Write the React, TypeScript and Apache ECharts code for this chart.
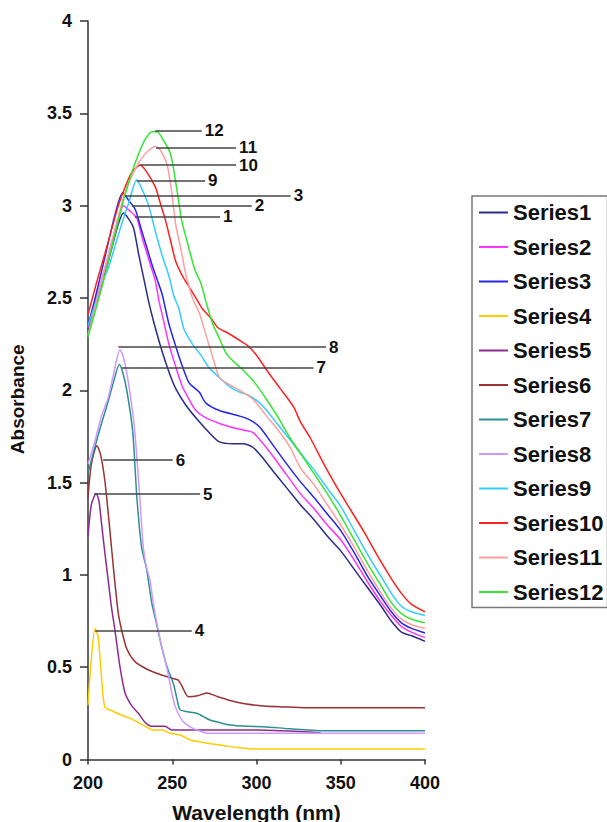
import React, { useEffect, useRef } from "react";
import * as echarts from "echarts";

const seriesNames = ["Series1","Series2","Series3","Series4","Series5","Series6","Series7","Series8","Series9","Series10","Series11","Series12"];
const seriesColors = ["#2B2B8A","#FF33FF","#2626EE","#FFCC00","#8E2A8E","#993333","#2E9090","#CC99FF","#33CCFF","#FF2020","#FF9E9E","#33E633"];

const s1 = [[200,2.33],[205,2.48],[210,2.63],[215,2.8],[218,2.9],[221,2.96],[224,2.93],[227,2.88],[230,2.74],[233,2.61],[236,2.48],[239,2.37],[244,2.21],[248,2.1],[252,2.01],[258,1.92],[265,1.84],[272,1.77],[278,1.72],[286,1.71],[292,1.71],[298,1.69],[304,1.63],[310,1.56],[318,1.47],[326,1.38],[334,1.3],[342,1.21],[350,1.13],[358,1.03],[366,0.93],[374,0.83],[380,0.75],[386,0.69],[392,0.67],[400,0.64]];
const s2 = [[200,2.34],[205,2.5],[210,2.66],[215,2.83],[218,2.93],[221,3.0],[225,2.97],[229,2.93],[232,2.83],[234,2.77],[237,2.68],[240,2.59],[242,2.49],[245,2.37],[248,2.25],[252,2.13],[256,2.02],[260,1.95],[264,1.89],[270,1.85],[278,1.82],[285,1.8],[292,1.785],[298,1.77],[304,1.71],[310,1.64],[318,1.54],[326,1.44],[334,1.36],[342,1.27],[350,1.19],[358,1.08],[366,0.96],[374,0.85],[380,0.78],[386,0.72],[392,0.69],[400,0.66]];
const s3 = [[200,2.35],[204,2.49],[210,2.72],[216,2.95],[220.6,3.07],[224,3.03],[228,2.98],[232,2.86],[235,2.77],[238,2.68],[241,2.6],[244,2.52],[248,2.36],[252,2.24],[256,2.13],[260,2.04],[266,1.99],[270,1.93],[278,1.89],[290,1.86],[296,1.84],[302,1.8],[310,1.7],[318,1.6],[326,1.505],[334,1.42],[342,1.33],[350,1.24],[358,1.12],[366,0.99],[374,0.88],[380,0.8],[386,0.74],[392,0.71],[400,0.685]];
const s4 = [[200,0.295],[202,0.55],[204.2,0.71],[206,0.665],[208,0.45],[210,0.286],[215,0.26],[220,0.24],[225,0.223],[232,0.19],[238.8,0.16],[244,0.16],[248.7,0.142],[254.6,0.133],[260.6,0.106],[267,0.095],[274,0.084],[281,0.075],[288,0.066],[294,0.06],[300,0.057],[350,0.057],[400,0.057]];
const s5 = [[200,1.21],[202,1.38],[204.8,1.44],[206.5,1.4],[208,1.28],[210,1.12],[212,0.97],[214,0.82],[216,0.7],[219,0.5],[222,0.36],[226,0.29],[229.9,0.25],[234,0.2],[237.8,0.18],[245.7,0.18],[249.7,0.16],[300,0.16],[338,0.145]];
const s6 = [[200,1.42],[202,1.6],[205.3,1.7],[207.5,1.65],[210,1.51],[213,1.24],[215.5,1.0],[218,0.79],[220,0.7],[223,0.6],[227.9,0.53],[234.8,0.49],[242.8,0.46],[250,0.44],[253.6,0.43],[255.6,0.4],[259.6,0.34],[265,0.345],[270.4,0.36],[277,0.34],[284.3,0.32],[294,0.3],[304,0.29],[315,0.285],[330,0.28],[400,0.28]];
const s7 = [[200,1.55],[204,1.69],[208,1.82],[212,1.94],[215,2.04],[218.6,2.14],[220.5,2.1],[223,2.0],[226.5,1.78],[229,1.42],[231.8,1.15],[234.8,1.03],[237.8,0.85],[240.8,0.73],[244,0.6],[247,0.5],[250.7,0.41],[253,0.32],[254.6,0.27],[258,0.26],[264.5,0.25],[268,0.235],[272.4,0.214],[278,0.2],[284.3,0.187],[295,0.18],[304.1,0.178],[320,0.166],[337.8,0.156],[400,0.156]];
const s8 = [[200,1.6],[204,1.72],[208,1.86],[212,1.96],[215,2.08],[219,2.22],[221,2.18],[224,2.04],[227.5,1.8],[230.5,1.45],[232.8,1.15],[234.5,1.05],[236.8,0.97],[238.5,0.86],[240.8,0.74],[243.5,0.62],[246.7,0.5],[250.7,0.32],[253,0.26],[256.6,0.205],[262,0.17],[266,0.155],[271.4,0.142],[400,0.142]];
const s9 = [[200,2.35],[204,2.46],[208,2.58],[212,2.66],[216,2.78],[220,2.9],[224,3.01],[229,3.14],[232,3.09],[236,3.0],[240,2.86],[244,2.73],[248,2.62],[251,2.51],[254,2.44],[257,2.33],[262,2.25],[267,2.19],[272,2.12],[279,2.06],[284,2.02],[290,1.99],[296,1.97],[302,1.93],[306,1.89],[313,1.81],[320,1.73],[326,1.66],[334,1.57],[342,1.47],[350,1.37],[358,1.24],[366,1.11],[374,0.99],[380,0.9],[386,0.83],[392,0.8],[400,0.78]];
const s10 = [[200,2.41],[205,2.58],[210,2.74],[214,2.87],[218,3.0],[222,3.1],[226,3.18],[231,3.22],[235,3.18],[240,3.1],[243,3.01],[246,2.92],[249,2.81],[252,2.7],[256,2.62],[260,2.56],[264,2.5],[268,2.44],[273,2.39],[277,2.34],[283,2.31],[290,2.27],[295,2.24],[300,2.19],[306,2.11],[314,2.01],[322,1.91],[326,1.83],[332,1.74],[340,1.6],[348,1.47],[356,1.35],[364,1.23],[372,1.1],[380,0.98],[386,0.9],[392,0.84],[400,0.8]];
const s11 = [[200,2.3],[205,2.48],[210,2.66],[214,2.8],[218,2.94],[222,3.07],[226,3.16],[230,3.23],[235,3.29],[240,3.32],[243,3.3],[247,3.22],[250,3.05],[252,2.9],[255,2.77],[258,2.63],[262,2.5],[266,2.42],[269,2.33],[272,2.24],[275,2.15],[278,2.07],[284,2.03],[290,2.0],[298,1.95],[306,1.86],[314,1.77],[320,1.69],[326,1.58],[334,1.49],[342,1.38],[350,1.27],[358,1.15],[366,1.02],[374,0.9],[380,0.82],[386,0.76],[392,0.73],[400,0.71]];
const s12 = [[200,2.29],[205,2.45],[210,2.62],[214,2.77],[218,2.92],[222,3.06],[226,3.18],[230,3.28],[234,3.36],[238,3.4],[241,3.4],[245,3.35],[249,3.28],[252,3.13],[255.6,2.92],[259,2.8],[263.5,2.65],[267,2.58],[270,2.48],[274,2.36],[278,2.28],[282,2.2],[287,2.15],[292,2.11],[299,2.04],[306,1.95],[313,1.85],[320,1.74],[326,1.66],[334,1.55],[342,1.44],[350,1.32],[358,1.19],[366,1.06],[374,0.94],[380,0.85],[386,0.79],[392,0.76],[400,0.74]];
const seriesData = [s1, s2, s3, s4, s5, s6, s7, s8, s9, s10, s11, s12];

// callout annotations: start wavelength (at peak), end wavelength, absorbance level
const calloutStart = [227.9, 226, 222, 204.2, 203.6, 209, 220, 218, 228.9, 230.9, 240.4, 239.8];
const calloutEnd = [278.4, 297.2, 320.3, 261.6, 266.5, 250.3, 333.8, 341.3, 269.5, 287.9, 287.9, 267.5];
const calloutLevel = [2.94, 3.0, 3.053, 0.7, 1.438, 1.622, 2.122, 2.233, 3.135, 3.22, 3.316, 3.406];
const calloutText = ["1","2","3","4","5","6","7","8","9","10","11","12"];

const xTicks = { min: 200, max: 400, interval: 50 };
const yTicks = { min: 0, max: 4, interval: 0.5 };

const FONT = "'Liberation Sans', Arial, Helvetica, sans-serif";

export default function App() {
  const ref = useRef<HTMLDivElement>(null);
  useEffect(() => {
    if (!ref.current) return;
    const chart = echarts.init(ref.current, undefined, { renderer: "svg" });
    const series = seriesNames.map((name, i) => ({
      name,
      type: "line",
      data: seriesData[i],
      showSymbol: false,
      symbol: "none",
      smooth: 0.25,
      lineStyle: { color: seriesColors[i], width: 1.5 },
      itemStyle: { color: seriesColors[i] },
      z: 2,
      markLine: {
        silent: true,
        symbol: ["none", "none"],
        animation: false,
        lineStyle: { color: "#444", width: 1.5, type: "solid" },
        label: {
          show: true,
          position: "end",
          distance: 3,
          formatter: calloutText[i],
          color: "#111",
          fontWeight: "bold",
          fontSize: 17,
          fontFamily: FONT,
        },
        emphasis: { disabled: true },
        data: [[
          { coord: [calloutStart[i], calloutLevel[i]] },
          { coord: [calloutEnd[i], calloutLevel[i]] },
        ]],
      },
    }));
    chart.setOption({
      animation: false,
      backgroundColor: "#fff",
      textStyle: { fontFamily: FONT },
      grid: { left: 88, top: 21, right: 182, bottom: 62.5, containLabel: false, outerBoundsMode: "none" },
      xAxis: {
        type: "value",
        min: xTicks.min,
        max: xTicks.max,
        interval: xTicks.interval,
        name: "Wavelength (nm)",
        nameLocation: "middle",
        nameGap: 42,
        nameTextStyle: { fontSize: 21, fontWeight: "bold", color: "#111", fontFamily: FONT },
        axisLine: { lineStyle: { color: "#333", width: 1.5 } },
        axisTick: { show: true, length: 5, lineStyle: { color: "#333", width: 1.5 } },
        axisLabel: { fontSize: 18, fontWeight: "bold", color: "#111", margin: 14, fontFamily: FONT },
        splitLine: { show: false },
      },
      yAxis: {
        type: "value",
        min: yTicks.min,
        max: yTicks.max,
        interval: yTicks.interval,
        name: "Absorbance",
        nameLocation: "middle",
        nameGap: 61,
        nameTextStyle: { fontSize: 19, fontWeight: "bold", color: "#111", fontFamily: FONT, padding: [0, 18, 0, 0] },
        axisLine: { show: true, lineStyle: { color: "#333", width: 1.5 } },
        axisTick: { show: true, length: 8, lineStyle: { color: "#333", width: 1.5 } },
        axisLabel: { fontSize: 18, fontWeight: "bold", color: "#111", margin: 16, fontFamily: FONT },
        splitLine: { show: false },
      },
      legend: {
        orient: "vertical",
        left: 472,
        top: 196,
        data: seriesNames,
        icon: "rect",
        itemWidth: 29,
        itemHeight: 2,
        itemGap: 9.5,
        padding: [4, 4, 3, 7],
        borderColor: "#777",
        borderWidth: 1.5,
        selectedMode: false,
        textStyle: { fontSize: 22, fontWeight: "bold", color: "#111", lineHeight: 25, fontFamily: FONT },
      },
      series,
    });
    return () => chart.dispose();
  }, []);
  return <div ref={ref} style={{ position: "fixed", left: 0, top: 0, width: 607, height: 822 }} />;
}
